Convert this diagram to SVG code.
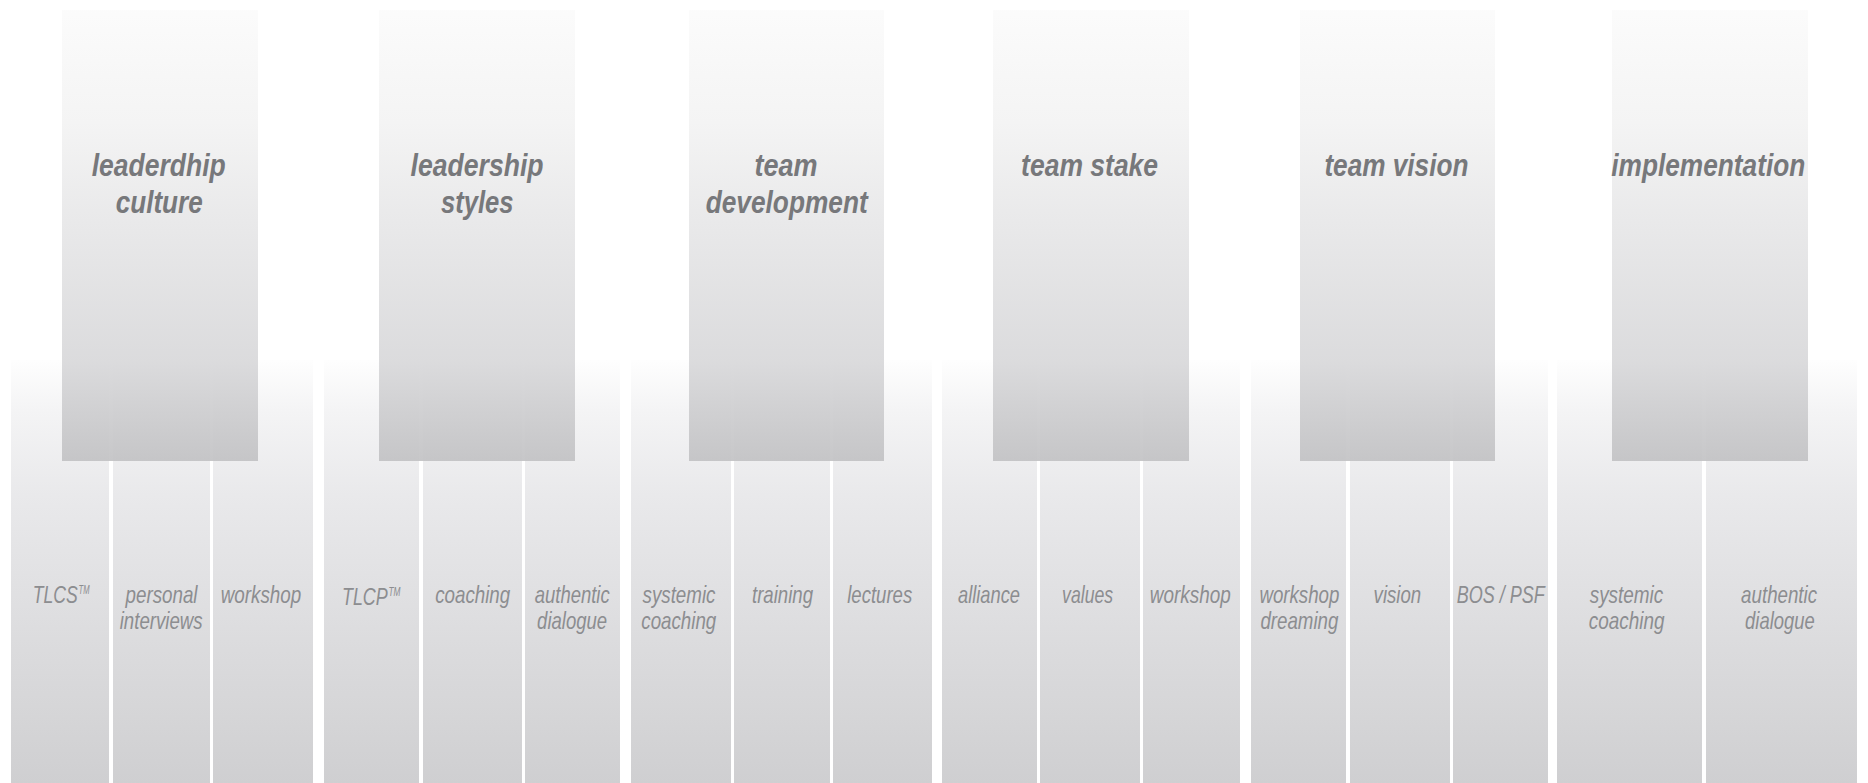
<svg xmlns="http://www.w3.org/2000/svg" width="1868" height="783" viewBox="0 0 1868 783">
<defs>
<linearGradient id="gTop" x1="0" y1="10" x2="0" y2="461" gradientUnits="userSpaceOnUse">
<stop offset="0" stop-color="#fbfbfb"/>
<stop offset="0.25" stop-color="#f3f3f3"/>
<stop offset="0.45" stop-color="#e8e8e9"/>
<stop offset="0.78" stop-color="#d8d8da"/>
<stop offset="1" stop-color="#c2c2c4"/>
</linearGradient>
<linearGradient id="gBot" x1="0" y1="360" x2="0" y2="783" gradientUnits="userSpaceOnUse">
<stop offset="0" stop-color="#fefefe"/>
<stop offset="0.12" stop-color="#f4f4f5"/>
<stop offset="0.32" stop-color="#e9e9eb"/>
<stop offset="1" stop-color="#cfcfd1"/>
</linearGradient>
<style>
.sub{fill:url(#gBot);}
.top{fill:url(#gTop);opacity:0.92;}
.title{font-family:"Liberation Sans",Arial,sans-serif;font-weight:bold;font-style:italic;font-size:32px;fill:#77787b;text-anchor:middle;}
.lab{font-family:"Liberation Sans",Arial,sans-serif;font-style:italic;font-size:24px;fill:#8c8d90;text-anchor:middle;}
.labs{font-family:"Liberation Sans",Arial,sans-serif;font-style:italic;font-size:24px;fill:#8c8d90;}
.tm{font-size:12px;}
</style>
</defs>
<rect width="1868" height="783" fill="#ffffff"/>

<g id="group-leadership-culture">
<rect class="sub" x="11" y="360" width="98" height="423"/>
<rect class="sub" x="113" y="360" width="97" height="423"/>
<rect class="sub" x="213" y="360" width="100" height="423"/>
<rect class="top" x="62" y="10" width="196" height="451"/>
<text class="title" x="158.7" y="175.7" textLength="134" lengthAdjust="spacingAndGlyphs">leaderdhip</text>
<text class="title" x="159.2" y="212.5" textLength="87" lengthAdjust="spacingAndGlyphs">culture</text>
<text class="labs" x="32.7" y="603"><tspan textLength="45" lengthAdjust="spacingAndGlyphs">TLCS</tspan><tspan class="tm" x="78.5" y="594" textLength="11" lengthAdjust="spacingAndGlyphs">TM</tspan></text>
<text class="lab" x="161.5" y="603" textLength="72" lengthAdjust="spacingAndGlyphs">personal</text>
<text class="lab" x="161.2" y="629" textLength="83" lengthAdjust="spacingAndGlyphs">interviews</text>
<text class="lab" x="261" y="603" textLength="80.5" lengthAdjust="spacingAndGlyphs">workshop</text>
</g>

<g id="group-leadership-styles">
<rect class="sub" x="324" y="360" width="95" height="423"/>
<rect class="sub" x="423" y="360" width="99" height="423"/>
<rect class="sub" x="525" y="360" width="95" height="423"/>
<rect class="top" x="379" y="10" width="196" height="451"/>
<text class="title" x="477.1" y="175.7" textLength="133" lengthAdjust="spacingAndGlyphs">leadership</text>
<text class="title" x="477.2" y="212.5" textLength="72.6" lengthAdjust="spacingAndGlyphs">styles</text>
<text class="labs" x="342" y="605"><tspan textLength="45.7" lengthAdjust="spacingAndGlyphs">TLCP</tspan><tspan class="tm" x="388.5" y="596" textLength="12" lengthAdjust="spacingAndGlyphs">TM</tspan></text>
<text class="lab" x="472.7" y="603" textLength="75" lengthAdjust="spacingAndGlyphs">coaching</text>
<text class="lab" x="572.2" y="603" textLength="75" lengthAdjust="spacingAndGlyphs">authentic</text>
<text class="lab" x="572.1" y="629" textLength="70" lengthAdjust="spacingAndGlyphs">dialogue</text>
</g>

<g id="group-team-development">
<rect class="sub" x="631" y="360" width="100" height="423"/>
<rect class="sub" x="734" y="360" width="96" height="423"/>
<rect class="sub" x="833" y="360" width="99" height="423"/>
<rect class="top" x="689" y="10" width="195" height="451"/>
<text class="title" x="786.1" y="175.7" textLength="63" lengthAdjust="spacingAndGlyphs">team</text>
<text class="title" x="786.7" y="212.5" textLength="162" lengthAdjust="spacingAndGlyphs">development</text>
<text class="lab" x="679" y="603" textLength="73" lengthAdjust="spacingAndGlyphs">systemic</text>
<text class="lab" x="678.8" y="629" textLength="75" lengthAdjust="spacingAndGlyphs">coaching</text>
<text class="lab" x="782.5" y="603" textLength="61" lengthAdjust="spacingAndGlyphs">training</text>
<text class="lab" x="879.7" y="603" textLength="65" lengthAdjust="spacingAndGlyphs">lectures</text>
</g>

<g id="group-team-stake">
<rect class="sub" x="942" y="360" width="95" height="423"/>
<rect class="sub" x="1040" y="360" width="100" height="423"/>
<rect class="sub" x="1143" y="360" width="97" height="423"/>
<rect class="top" x="993" y="10" width="196" height="451"/>
<text class="title" x="1089.6" y="175.7" textLength="137" lengthAdjust="spacingAndGlyphs">team stake</text>
<text class="lab" x="989" y="603" textLength="62" lengthAdjust="spacingAndGlyphs">alliance</text>
<text class="lab" x="1087.6" y="603" textLength="51" lengthAdjust="spacingAndGlyphs">values</text>
<text class="lab" x="1190.3" y="603" textLength="81" lengthAdjust="spacingAndGlyphs">workshop</text>
</g>

<g id="group-team-vision">
<rect class="sub" x="1251" y="360" width="95" height="423"/>
<rect class="sub" x="1350" y="360" width="100" height="423"/>
<rect class="sub" x="1453" y="360" width="95" height="423"/>
<rect class="top" x="1300" y="10" width="195" height="451"/>
<text class="title" x="1396.4" y="175.7" textLength="144" lengthAdjust="spacingAndGlyphs">team vision</text>
<text class="lab" x="1299.4" y="603" textLength="80" lengthAdjust="spacingAndGlyphs">workshop</text>
<text class="lab" x="1299.4" y="629" textLength="78" lengthAdjust="spacingAndGlyphs">dreaming</text>
<text class="lab" x="1397.4" y="603" textLength="47.6" lengthAdjust="spacingAndGlyphs">vision</text>
<text class="lab" x="1500.7" y="603" textLength="88" lengthAdjust="spacingAndGlyphs">BOS / PSF</text>
</g>

<g id="group-implementation">
<rect class="sub" x="1557" y="360" width="145" height="423"/>
<rect class="sub" x="1706" y="360" width="151" height="423"/>
<rect class="top" x="1612" y="10" width="196" height="451"/>
<text class="title" x="1708.3" y="175.7" textLength="194" lengthAdjust="spacingAndGlyphs">implementation</text>
<text class="lab" x="1626.5" y="603" textLength="73.6" lengthAdjust="spacingAndGlyphs">systemic</text>
<text class="lab" x="1626.7" y="629" textLength="75.7" lengthAdjust="spacingAndGlyphs">coaching</text>
<text class="lab" x="1779.1" y="603" textLength="76" lengthAdjust="spacingAndGlyphs">authentic</text>
<text class="lab" x="1779.9" y="629" textLength="69.6" lengthAdjust="spacingAndGlyphs">dialogue</text>
</g>

<g id="connectors"/>
</svg>
